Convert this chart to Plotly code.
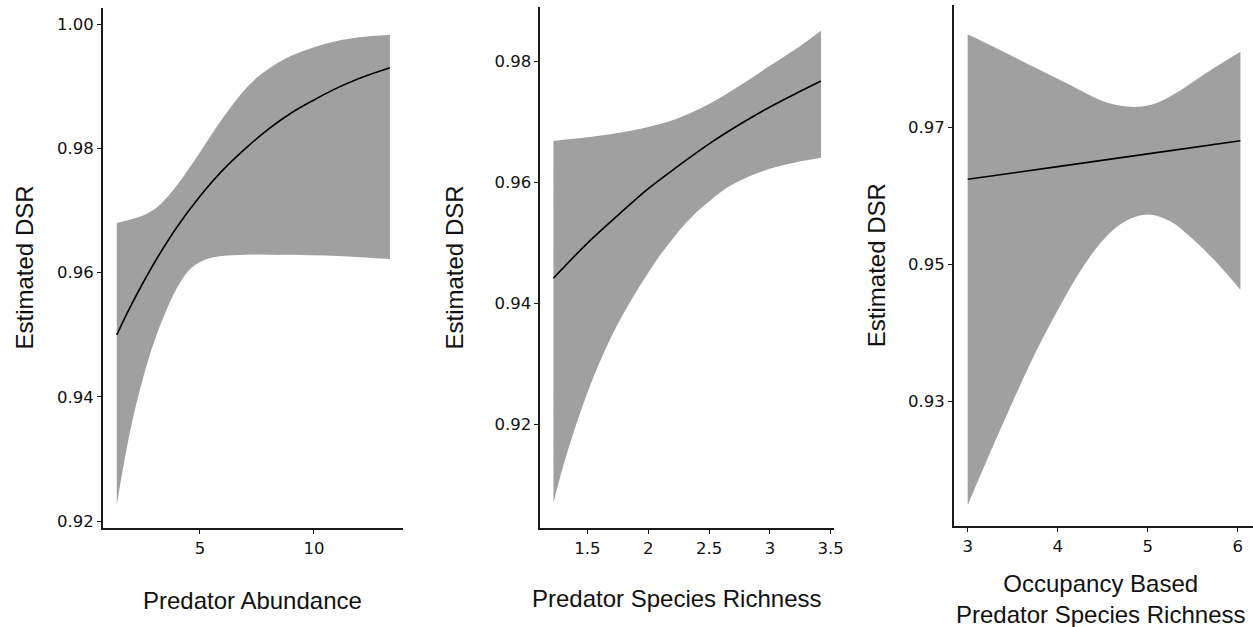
import plotly.graph_objects as go

W, H = 1253, 627

# ---------------- Panel 1: Predator Abundance ----------------
abund_fit_x = [1.35, 2, 3, 4, 5, 6, 7, 8, 9, 10, 11, 12, 13.33]
abund_fit_y = [0.9500, 0.9549, 0.9616, 0.9674, 0.9723, 0.9765, 0.9800,
               0.9831, 0.9857, 0.9878, 0.9897, 0.9913, 0.9930]
abund_up_x = [1.35, 2.0, 2.5, 3.0, 3.5, 4.0, 4.5, 5.0, 5.5, 6.0, 6.5, 7.0,
              7.5, 8.0, 9.0, 10.0, 11.0, 12.0, 13.33]
abund_up_y = [0.9680, 0.9686, 0.9692, 0.9702, 0.9719, 0.9741, 0.9767, 0.9794,
              0.9822, 0.9849, 0.9874, 0.9896, 0.9914, 0.9928, 0.9949, 0.9963,
              0.9973, 0.9979, 0.9983]
abund_lo_x = [1.35, 1.6, 2.0, 2.5, 3.0, 3.5, 4.0, 4.5, 5.0, 5.5, 6.0, 7.0,
              8.0, 10.0, 12.0, 13.33]
abund_lo_y = [0.9226, 0.9280, 0.9356, 0.9430, 0.9490, 0.9537, 0.9576, 0.9603,
              0.9617, 0.9624, 0.9627, 0.9629, 0.9629, 0.9628, 0.9625, 0.9622]

# ---------------- Panel 2: Predator Species Richness ----------------
rich_fit_x = [1.22, 1.5, 1.75, 2.0, 2.25, 2.5, 2.75, 3.0, 3.25, 3.42]
rich_fit_y = [0.9441, 0.9499, 0.9545, 0.9589, 0.9627, 0.9663, 0.9695,
              0.9724, 0.9750, 0.9767]
rich_up_x = [1.22, 1.5, 1.75, 2.0, 2.25, 2.5, 2.75, 3.0, 3.25, 3.42]
rich_up_y = [0.9668, 0.9674, 0.9681, 0.9691, 0.9706, 0.9729, 0.9759, 0.9792,
             0.9825, 0.9850]
rich_lo_x = [1.22, 1.3, 1.4, 1.5, 1.6, 1.7, 1.8, 1.9, 2.0, 2.1, 2.2, 2.3,
             2.4, 2.5, 2.6, 2.75, 3.0, 3.2, 3.42]
rich_lo_y = [0.9070, 0.9130, 0.9195, 0.9252, 0.9302, 0.9346, 0.9384, 0.9418,
             0.9450, 0.9480, 0.9506, 0.9530, 0.9551, 0.9568, 0.9584, 0.9602,
             0.9622, 0.9632, 0.9640]

# ---------------- Panel 3: Occupancy Based Predator Species Richness ----------------
occ_fit_x = [3.0, 4.0, 5.0, 6.03]
occ_fit_y = [0.96245, 0.96431, 0.96617, 0.96809]
occ_up_x = [3.0, 3.36, 3.73, 4.10, 4.5, 4.7, 4.9, 5.1, 5.3, 5.5, 5.75, 6.03]
occ_up_y = [0.98367, 0.98137, 0.97892, 0.97650, 0.97390, 0.97320, 0.97305,
            0.97360, 0.97495, 0.97670, 0.97885, 0.98112]
occ_lo_x = [3.0, 3.25, 3.5, 3.75, 4.0, 4.25, 4.5, 4.75, 5.0, 5.25, 5.5,
            5.75, 6.03]
occ_lo_y = [0.9148, 0.9225, 0.9299, 0.9370, 0.9433, 0.9490, 0.9535, 0.9563,
            0.9573, 0.9563, 0.9537, 0.9505, 0.9463]

# tick labels
abund_xticks = [5, 10]
abund_yticks = [0.92, 0.94, 0.96, 0.98, 1.00]
abund_yticktext = ["0.92", "0.94", "0.96", "0.98", "1.00"]
rich_xticks = [1.5, 2, 2.5, 3, 3.5]
rich_xticktext = ["1.5", "2", "2.5", "3", "3.5"]
rich_yticks = [0.92, 0.94, 0.96, 0.98]
occ_xticks = [3, 4, 5, 6]
occ_yticks = [0.93, 0.95, 0.97]

x_titles = ["Predator Abundance", "Predator Species Richness",
            "Occupancy Based<br>Predator Species Richness"]
y_title = "Estimated DSR"

BAND = "#a0a0a0"
AXC = "#1a1a1a"
TICKFONT = dict(family="DejaVu Sans", size=16.5, color="#111")
TITLEFONT = dict(family="Liberation Sans, Arial", size=24, color="#111")

fig = go.Figure()

panels = [
    (abund_fit_x, abund_fit_y, abund_up_x, abund_up_y, abund_lo_x, abund_lo_y, "x", "y"),
    (rich_fit_x, rich_fit_y, rich_up_x, rich_up_y, rich_lo_x, rich_lo_y, "x2", "y2"),
    (occ_fit_x, occ_fit_y, occ_up_x, occ_up_y, occ_lo_x, occ_lo_y, "x3", "y3"),
]
for fx, fy, ux, uy, lx, ly, xa, ya in panels:
    fig.add_trace(go.Scatter(x=lx, y=ly, mode="lines", xaxis=xa, yaxis=ya,
                             line=dict(width=0, color=BAND, shape="spline", smoothing=1),
                             showlegend=False, hoverinfo="skip"))
    fig.add_trace(go.Scatter(x=ux, y=uy, mode="lines", xaxis=xa, yaxis=ya,
                             fill="tonexty", fillcolor=BAND,
                             line=dict(width=0, color=BAND, shape="spline", smoothing=1),
                             showlegend=False, hoverinfo="skip"))
    fig.add_trace(go.Scatter(x=fx, y=fy, mode="lines", xaxis=xa, yaxis=ya,
                             line=dict(width=1.6, color="black", shape="spline"),
                             showlegend=False))

def px_x(p):
    return p / W

def px_y(p):
    return 1 - p / H

common = dict(showline=True, linecolor=AXC, linewidth=1.7, ticks="outside",
              ticklen=4, tickwidth=1.2, tickcolor=AXC, showgrid=False,
              zeroline=False, tickfont=TICKFONT, automargin=False, mirror=False)

fig.update_layout(
    width=W, height=H, margin=dict(l=0, r=0, t=0, b=0),
    paper_bgcolor="white", plot_bgcolor="white", showlegend=False,
    xaxis=dict(domain=[px_x(103), px_x(403)], range=[0.746, 13.904],
               tickvals=abund_xticks, anchor="y", **common),
    yaxis=dict(domain=[px_y(528), px_y(8)], range=[0.9189, 1.0026],
               tickvals=abund_yticks, ticktext=abund_yticktext, anchor="x", **common),
    xaxis2=dict(domain=[px_x(540.3), px_x(834)], range=[1.112, 3.527],
                tickvals=rich_xticks, ticktext=rich_xticktext, anchor="y2", **common),
    yaxis2=dict(domain=[px_y(528), px_y(7)], range=[0.90281, 0.98893],
                tickvals=rich_yticks, anchor="x2", **common),
    xaxis3=dict(domain=[px_x(954), 1.0], range=[2.848, 6.170],
                tickvals=occ_xticks, anchor="y3", **common),
    yaxis3=dict(domain=[px_y(526), px_y(5)], range=[0.91173, 0.98795],
                tickvals=occ_yticks, anchor="x3", **common),
)

annots = []
for cx, cy, txt in [(252.5, 600, x_titles[0]), (676.7, 598.3, x_titles[1]),
                    (1100.8, 599, x_titles[2])]:
    annots.append(dict(x=px_x(cx), y=px_y(cy), xref="paper", yref="paper",
                       text=txt, showarrow=False, font=TITLEFONT,
                       xanchor="center", yanchor="middle"))
for cx, cy in [(24.5, 268), (454, 267.5), (876.7, 265.5)]:
    annots.append(dict(x=px_x(cx), y=px_y(cy), xref="paper", yref="paper",
                       text=y_title, showarrow=False, font=TITLEFONT, textangle=-90,
                       xanchor="center", yanchor="middle"))
fig.update_layout(annotations=annots)

fig.write_html("out.html")
